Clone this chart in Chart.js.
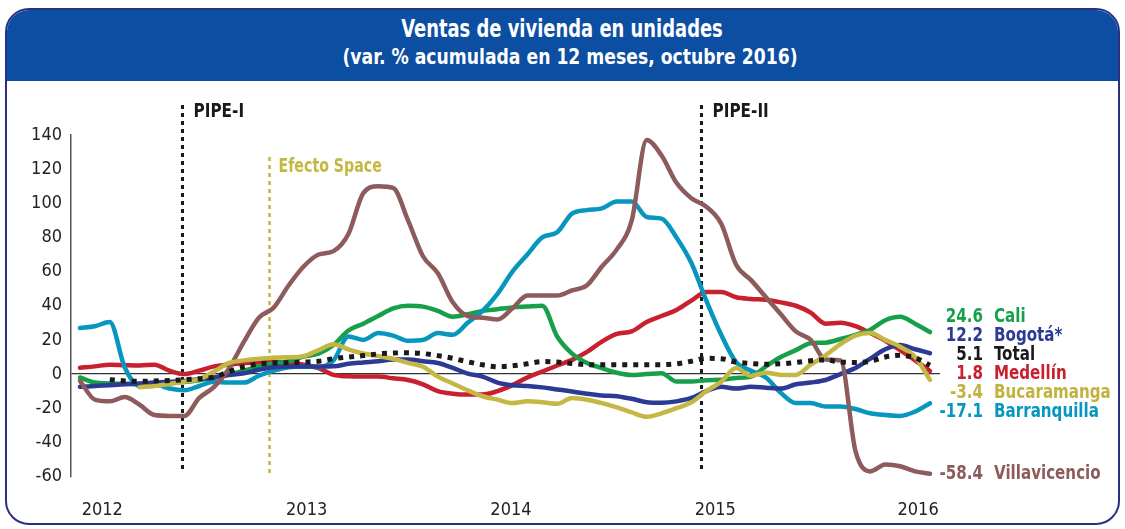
<!DOCTYPE html>
<html>
<head>
<meta charset="utf-8">
<script src="https://cdn.jsdelivr.net/npm/chart.js@4.4.1/dist/chart.umd.min.js"></script>
<style>
html,body{margin:0;padding:0;background:#fff;}
body{width:1125px;height:529px;position:relative;overflow:hidden;font-family:"DejaVu Sans Condensed","DejaVu Sans",sans-serif;}
#frame{position:absolute;left:5px;top:8px;width:1111px;height:513px;border:2px solid #2B2F84;border-radius:24px;overflow:hidden;background:#fff;}
#hdr{position:absolute;left:0;top:0;right:0;height:71px;background:#0B4EA2;}
.t{position:absolute;width:1000px;text-align:center;color:#fff;font-weight:bold;white-space:nowrap;transform-origin:50% 50%;}
#t1{left:62px;top:14px;font-size:24px;line-height:30px;transform:scaleX(0.83);}
#t2{left:70px;top:43px;font-size:22px;line-height:28px;transform:scaleX(0.87);}
#chartbox{position:absolute;left:0;top:0;width:1125px;height:529px;}
.lbl{position:absolute;font-weight:bold;font-size:20px;line-height:20px;white-space:nowrap;}
.lv{text-align:right;transform-origin:100% 50%;transform:scaleX(0.84);}
.ln{transform-origin:0 50%;transform:scaleX(0.84);}
</style>
</head>
<body>
<div id="frame"><div id="hdr"></div></div>
<div class="t" id="t1">Ventas de vivienda en unidades</div>
<div class="t" id="t2">(var. % acumulada en 12 meses, octubre 2016)</div>
<div id="chartbox"><canvas id="c" width="1125" height="529"></canvas></div>
<div id="labels"></div>
<script>
// ---- categories (months, Jan-2012 .. Oct-2016) ----
const meses = ['ene-12','feb-12','mar-12','abr-12','may-12','jun-12','jul-12','ago-12','sep-12','oct-12','nov-12','dic-12',
 'ene-13','feb-13','mar-13','abr-13','may-13','jun-13','jul-13','ago-13','sep-13','oct-13','nov-13','dic-13',
 'ene-14','feb-14','mar-14','abr-14','may-14','jun-14','jul-14','ago-14','sep-14','oct-14','nov-14','dic-14',
 'ene-15','feb-15','mar-15','abr-15','may-15','jun-15','jul-15','ago-15','sep-15','oct-15','nov-15','dic-15',
 'ene-16','feb-16','mar-16','abr-16','may-16','jun-16','jul-16','ago-16','sep-16','oct-16'];

// ---- series (var. % acumulada 12 meses) ----
const cali = [-2,-5,-5.5,-5.7,-6,-5.6,-5.3,-4.7,-3.6,-2,-0.2,2,4.5,6.2,7.5,10.3,12,17,25.5,29.5,34,38.5,40,39.5,37,33.6,35,37,38,39,39.5,40,22,12,6.5,3.5,0.8,-0.5,0,0.5,-4.4,-4.4,-3.6,-3.4,-2.3,-1.5,4.5,10,14,18,18.4,20.5,23,26,31.5,33.5,29.5,24.6];
const bogota = [-7.5,-7,-6.5,-6,-5.5,-5,-4.5,-4,-3,-2,-0.5,0.5,2.5,4,4.4,4.4,4.4,4.5,6,6.8,7.5,8.5,8.5,7.5,6.5,3.6,0.3,-1.5,-5,-6.5,-7,-7.8,-9,-10.2,-11.5,-12.5,-13,-14.5,-16.5,-16.8,-16,-14,-10,-7.5,-8.5,-7.5,-8,-8.5,-6,-5,-3.5,0,3.5,9,14.5,17,14.5,12.2];
const total = [null,null,-3.3,-4,-4.3,-4,-3.8,-3.3,-2.7,-1.8,1.5,4.3,5.8,6.6,6.6,7,7.5,9,10,10.8,11.8,12.3,12.5,12,10.8,9.2,7.2,5.4,4.3,4.8,6,7.3,7,6.2,5.5,5.5,5.5,5.5,5.5,5.5,6,7.5,9.2,9,7,6.2,5.7,6,6.8,7.8,8.3,7,6.8,7.5,10,11,9.5,5.1];
const medellin = [3.7,4.5,5.5,5.2,5,5.5,2,0,2,4.5,5.5,6.4,6.8,7,6.5,5.5,3.5,-0.5,-1.3,-1.5,-1.5,-2.5,-3.5,-6,-10,-11.5,-12,-12,-10,-6.5,-2,1.5,5,8.3,13,19,23.5,25,30.5,34,37.5,43,48,48,45,44,43.5,42,40,36,29.5,30,28,24,19.5,14,8,1.8];
const bucaramanga = [null,null,null,null,-7.7,-7,-5.8,-4.5,-3,1.5,6.5,8,9,9.6,9.8,10.5,14,17.5,14.5,12,10.5,9,6.5,4.3,-1.5,-5.5,-9.5,-13,-15,-17,-16,-16.5,-17.4,-14,-15,-17,-19.5,-22.5,-25,-23,-20,-16.5,-10,-4.5,3.5,-1,0.8,-0.5,-0.5,5.5,11,17.5,22.5,24,20,16,10,-3.4];
const barranquilla = [27,28,30.5,4,-7,-6,-8.5,-9.5,-7,-4.5,-5,-5,-1,2,4,4.4,4,8,22,20,24,22.5,19.5,20,24,23,30,37,47,60,70,80,83,94,96,97,101,101,92,91,80,65,43,23,7,2,-2,-11,-17,-17,-19,-19,-20.5,-23,-24,-24.5,-22,-17.1];
const villavicencio = [-4,-15,-16,-13.5,-18,-24,-24.5,-24.5,-14,-7.5,3.3,19,33,39,52,63,70,72,82,106,110,109,90,69,59,42,34,33,32,38.5,46,46,46,49,52,63,73,90,137,128,112,103,98,88,64,55,45,35,25,20,8.5,8,-45,-57,-53,-54,-57,-58.4];

// ---- axis ticks ----
const yTicks = [-60,-40,-20,0,20,40,60,80,100,120,140];
const yearLabels = ['2012','2013','2014','2015','2016'];
const yearTickAt = [1.5,15.2,28.9,42.6,56.2];   // position of year labels, in month-index units

// ---- events ----
const eventNames = ['PIPE-I','Efecto Space','PIPE-II'];
const eventAt = [6.84,12.67,41.64];             // month-index units

// ---- end labels ----
const endNames = ['Cali','Bogotá*','Total','Medellín','Bucaramanga','Barranquilla','Villavicencio'];
const endValues = ['24.6','12.2','5.1','1.8','-3.4','-17.1','-58.4'];

// ---- styles ----
const FONT = '"DejaVu Sans Condensed","DejaVu Sans",sans-serif';
const colors = {cali:'#179F4A',bogota:'#2B3A94',total:'#1A1A1A',medellin:'#C8202F',bucaramanga:'#C5B743',barranquilla:'#0696BE',villavicencio:'#8D5B5B'};
const endColors = [colors.cali,colors.bogota,colors.total,colors.medellin,'#C2B23F',colors.barranquilla,colors.villavicencio];
const endY = [315,334,353,372,391,410,472];
const eventStyle = [
  {color:'#1A1A1A',width:3,dash:[4,4],top:105,bottom:472,font:'bold 20px '+FONT,dx:11,ty:112,sx:0.85},
  {color:'#C5B743',width:2.5,dash:[4,4],top:157,bottom:474,font:'bold 19px '+FONT,dx:9,ty:167,sx:0.83},
  {color:'#1A1A1A',width:3,dash:[4,4],top:105,bottom:472,font:'bold 20px '+FONT,dx:11,ty:112,sx:0.85}
];

// end labels as HTML text
const lab = document.getElementById('labels');
endNames.forEach((n,i)=>{
  const v = document.createElement('div');
  v.className='lbl lv'; v.style.left='883px'; v.style.width='100px'; v.style.top=(endY[i]-10)+'px'; v.style.color=endColors[i];
  v.textContent=endValues[i];
  lab.appendChild(v);
  const d = document.createElement('div');
  d.className='lbl ln'; d.style.left='994px'; d.style.top=(endY[i]-10)+'px'; d.style.color=endColors[i];
  d.textContent=n;
  lab.appendChild(d);
});

const toXY = arr => arr.map((v,i)=>({x:i,y:v}));

const eventPlugin = {
  id:'eventPlugin',
  beforeDatasetsDraw(chart){
    const ctx = chart.ctx, xs = chart.scales.x;
    eventAt.forEach((at,i)=>{
      const s = eventStyle[i];
      const px = Math.round(xs.getPixelForValue(at))+0.5;
      ctx.save();
      ctx.strokeStyle=s.color; ctx.lineWidth=s.width; ctx.setLineDash(s.dash);
      ctx.beginPath(); ctx.moveTo(px,s.top); ctx.lineTo(px,s.bottom); ctx.stroke();
      ctx.setLineDash([]);
      ctx.translate(px+s.dx, s.ty); ctx.scale(s.sx,1);
      ctx.fillStyle=s.color; ctx.font=s.font; ctx.textBaseline='middle'; ctx.textAlign='left';
      ctx.fillText(eventNames[i], 0, 0);
      ctx.restore();
    });
  }
};

const mk = (label,data,color,extra) => Object.assign({
  label, data: toXY(data), borderColor: color, backgroundColor: color,
  borderWidth: 4.5, pointRadius: 0, pointHoverRadius: 0, fill: false,
  cubicInterpolationMode: 'monotone', spanGaps: false, borderCapStyle:'round', borderJoinStyle:'round'
}, extra||{});

new Chart(document.getElementById('c'), {
  type: 'line',
  data: {
    labels: meses,
    datasets: [
      mk('Total', total, colors.total, {borderWidth:5, borderDash:[5,6], borderCapStyle:'butt'}),
      mk('Bucaramanga', bucaramanga, colors.bucaramanga),
      mk('Villavicencio', villavicencio, colors.villavicencio),
      mk('Bogotá*', bogota, colors.bogota),
      mk('Barranquilla', barranquilla, colors.barranquilla),
      mk('Cali', cali, colors.cali),
      mk('Medellín', medellin, colors.medellin)
    ]
  },
  options: {
    responsive: false, animation: false, events: [],
    layout: {padding: {left: 0, top: 135, right: 185, bottom: 0}},
    plugins: {legend: {display: false}, tooltip: {enabled: false}},
    scales: {
      x: {
        type: 'linear', min: -0.6, max: 57.67,
        afterFit: s => { s.height = 52.5; },
        afterBuildTicks: s => { s.ticks = yearTickAt.map(v => ({value: v})); },
        ticks: {autoSkip:false, maxRotation:0, padding: 23, color:'#222',
          font:{family:FONT, size:18},
          callback: (v,i) => yearLabels[i]},
        grid: {display:false, drawTicks:false},
        border: {display:false}
      },
      y: {
        min: -60, max: 140,
        afterFit: s => { s.width = 71; },
        afterBuildTicks: s => { s.ticks = yTicks.map(v => ({value: v})); },
        ticks: {padding: 9, color:'#222',
          font:{family:FONT, size:18},
          callback: v => String(v)},
        grid: {drawTicks:false, lineWidth: 1.2, color: c => (c.tick && c.tick.value === 0) ? '#333' : 'rgba(0,0,0,0)'},
        border: {display:true, color:'#555', width:1.5}
      }
    }
  },
  plugins: [eventPlugin]
});
</script>
</body>
</html>
